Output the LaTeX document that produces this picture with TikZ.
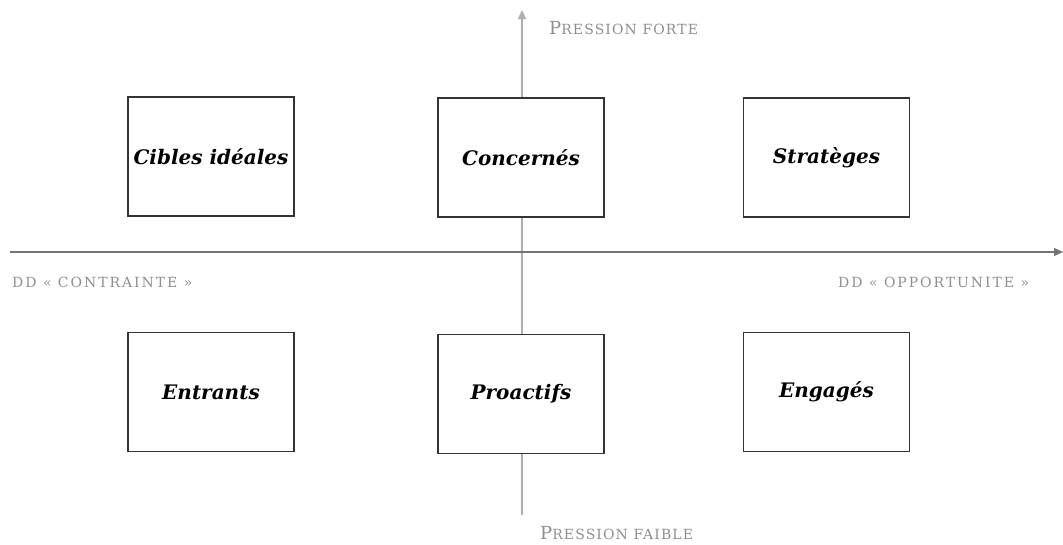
\documentclass[tikz,border=0pt]{standalone}
\usepackage{fontspec}
\setmainfont{Liberation Serif}
\newfontfamily\boxfont{DejaVu Serif}
\newfontfamily\labfont[LetterSpace=14]{DejaVu Serif}
\newfontfamily\pfont[LetterSpace=8]{DejaVu Serif}
\usetikzlibrary{arrows.meta}
\definecolor{axisgray}{HTML}{9A9A9A}
\definecolor{labgray}{HTML}{8E8E8E}
\newcommand{\fsc}[2]{{\fontsize{18}{18}\selectfont #1}{\fontsize{14}{14}\selectfont #2}}
\begin{document}
\begin{tikzpicture}[x=1pt,y=-1pt,
  quad/.style={draw=black!80,line width=1.2pt,fill=white,minimum width=166pt,minimum height=119pt,inner sep=0pt,
    font=\boxfont\fontsize{20}{24}\selectfont\itshape\bfseries},
  axlab/.style={text=labgray,inner sep=0pt,anchor=base west},
  ax/.style={line width=1.1pt,-{Triangle[length=9pt,width=8pt]}}]
\useasboundingbox (0,0) rectangle (1063,544);
\coordinate (vb) at (522,515);
\coordinate (vt) at (522,10);
\coordinate (hl) at (10,252);
\coordinate (hr) at (1063,252);
\draw[ax,draw=axisgray!80] (vb) -- (vt);
\draw[ax,draw=black!55] (hl) -- (hr);
\node[quad] (ci) at (211,156.5) {Cibles idéales};
\node[quad] (co) at (521,157.5) {Concernés};
\node[quad] (st) at (826.5,157.5) {Stratèges};
\node[quad] (en) at (211,392) {Entrants};
\node[quad] (pr) at (521,394) {Proactifs};
\node[quad] (eg) at (826.5,392) {Engagés};
\node[axlab,font=\pfont] (pf) at (549,34.5) {\fsc{P}{RESSION FORTE}};
\node[axlab,font=\pfont] (pb) at (540,539) {\fsc{P}{RESSION FAIBLE}};
\node[axlab,font=\labfont\fontsize{14}{15}\selectfont] (dc) at (12,287) {DD « CONTRAINTE »};
\node[axlab,font=\labfont\fontsize{14}{15}\selectfont] (do) at (838,287) {DD « OPPORTUNITE »};
\end{tikzpicture}
\end{document}
